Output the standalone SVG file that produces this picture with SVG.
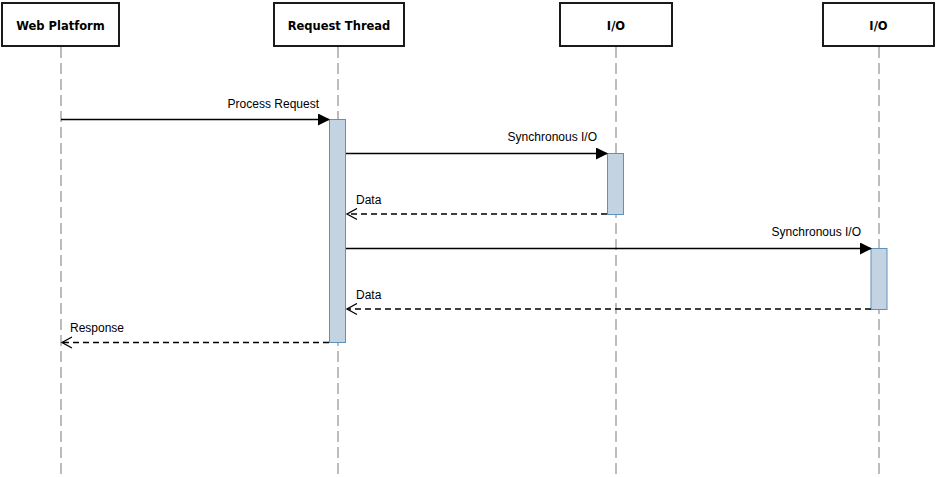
<svg xmlns="http://www.w3.org/2000/svg" width="938" height="477" viewBox="0 0 938 477">
<style>
.box{fill:#fff;stroke:#1a1a1a;stroke-width:2}
.hdr{font-family:"DejaVu Sans",Verdana,sans-serif;font-weight:bold;font-size:11.5px;fill:#000;text-anchor:middle}
.life{stroke:#a8a8a8;stroke-width:1.5;stroke-dasharray:11 5;fill:none}
.act{fill:#c3d3e2;stroke:#5f91bd;stroke-width:1}
.msg{stroke:#000;stroke-width:1.3;fill:none}
.ret{stroke:#000;stroke-width:1.4;stroke-dasharray:6 4;fill:none}
.lbl{font-family:"Liberation Sans",Arial,sans-serif;font-size:12px;fill:#000}
</style>
<defs>
<marker id="solid" markerWidth="12" markerHeight="12" refX="11" refY="6" orient="auto" markerUnits="userSpaceOnUse">
<path d="M0,0 L12,6 L0,12 Z" fill="#000"/>
</marker>
<marker id="open" markerWidth="13" markerHeight="13" refX="11" refY="6.5" orient="auto" markerUnits="userSpaceOnUse">
<path d="M1,1 L11,6.5 L1,12" fill="none" stroke="#000" stroke-width="1.3"/>
</marker>
</defs>
<rect width="938" height="477" fill="#fff"/>
<g id="lifelines">
<line class="life" x1="61" y1="47" x2="61" y2="477"/>
<line class="life" x1="338" y1="47" x2="338" y2="477"/>
<line class="life" x1="616" y1="47" x2="616" y2="477"/>
<line class="life" x1="879" y1="47" x2="879" y2="477"/>
</g>
<g id="web-platform">
<rect class="box" x="2" y="3" width="117" height="43"/>
<text class="hdr" x="60.5" y="30">Web Platform</text>
</g>
<g id="request-thread">
<rect class="box" x="274" y="3" width="130" height="43"/>
<text class="hdr" x="339" y="30">Request Thread</text>
<rect class="act" x="329.5" y="119.5" width="16" height="223"/>
</g>
<g id="io-1">
<rect class="box" x="560" y="3" width="112" height="43"/>
<text class="hdr" x="616" y="30">I/O</text>
<rect class="act" x="607.5" y="153.5" width="16" height="61"/>
</g>
<g id="io-2">
<rect class="box" x="823" y="3" width="111" height="43"/>
<text class="hdr" x="878.5" y="30">I/O</text>
<rect class="act" x="871" y="248.5" width="16" height="61"/>
</g>
<g id="connectors">
<line class="msg" x1="61" y1="119.5" x2="329" y2="119.5" marker-end="url(#solid)"/>
<text class="lbl" x="319" y="108" text-anchor="end">Process Request</text>
<line class="msg" x1="346" y1="153.5" x2="607" y2="153.5" marker-end="url(#solid)"/>
<text class="lbl" x="597" y="141" text-anchor="end">Synchronous I/O</text>
<line class="ret" x1="607" y1="214" x2="347" y2="214" marker-end="url(#open)"/>
<text class="lbl" x="356" y="204">Data</text>
<line class="msg" x1="346" y1="248.5" x2="871" y2="248.5" marker-end="url(#solid)"/>
<text class="lbl" x="861" y="236" text-anchor="end">Synchronous I/O</text>
<line class="ret" x1="871" y1="309" x2="347" y2="309" marker-end="url(#open)"/>
<text class="lbl" x="356" y="299">Data</text>
<line class="ret" x1="329" y1="342.5" x2="62" y2="342.5" marker-end="url(#open)"/>
<text class="lbl" x="70" y="332">Response</text>
</g>
</svg>
